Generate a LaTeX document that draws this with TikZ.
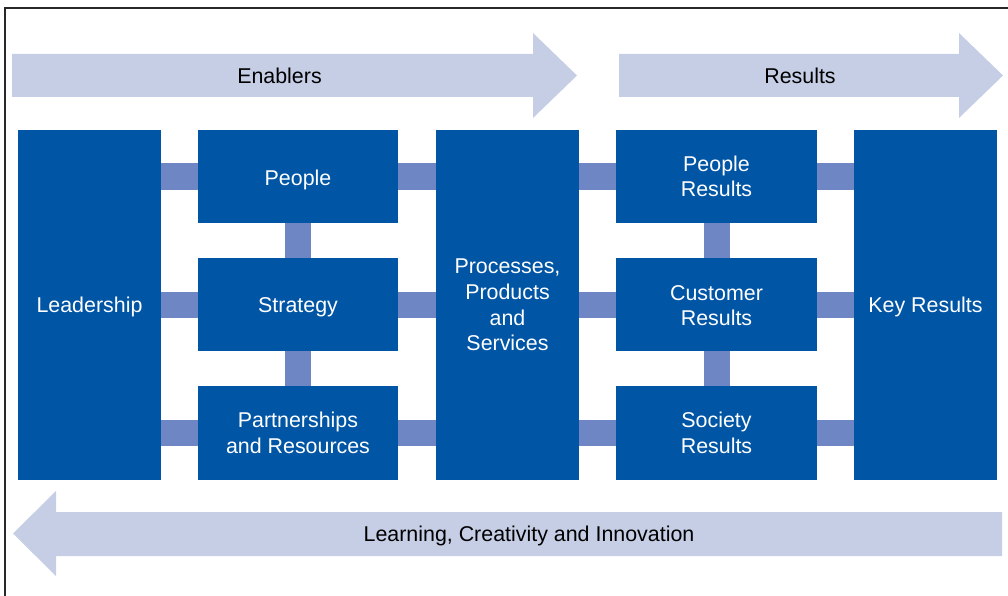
\documentclass[tikz,border=0pt]{standalone}
\usepackage{fontspec}
\setmainfont{Liberation Sans}
\definecolor{boxblue}{RGB}{0,85,165}
\definecolor{connblue}{RGB}{111,134,196}
\definecolor{arrowblue}{RGB}{198,206,230}
\definecolor{framegray}{RGB}{40,40,40}
\begin{document}
\begin{tikzpicture}[x=1pt,y=-1pt,
  lbl/.style={font=\fontsize{21.4}{25.7}\selectfont, align=center, inner sep=0pt},
  bluebox/.style={fill=boxblue, draw=none, text=white, lbl, minimum width=#1},
  conn/.style={draw=connblue, line width=26pt},
  bigarrow/.style={fill=arrowblue, draw=none}]
\useasboundingbox (0,0) rectangle (1008,596);
% frame (top and left only)
\draw[framegray, line width=2.2pt] (5,597) -- (5,8) -- (1008,8);
% big arrows
\path[bigarrow] (12,54) -- (533,54) -- (533,33) -- (577,75.5) -- (533,118) -- (533,97) -- (12,97) -- cycle;
\path[bigarrow] (619,54) -- (959,54) -- (959,33) -- (1003,75.5) -- (959,118) -- (959,97) -- (619,97) -- cycle;
\path[bigarrow] (1002,512) -- (56,512) -- (56,491) -- (13,533.5) -- (56,576) -- (56,556) -- (1002,556) -- cycle;
\node[lbl, text=black] (enab) at (279.5,75.5) {Enablers};
\node[lbl, text=black] (res) at (800,75.5) {Results};
\node[lbl, text=black] (learn) at (529,536) {Learning, Creativity and Innovation};
% boxes
\node[bluebox=143pt, minimum height=350pt] (lead) at (89.5,305) {};
\node[lbl, text=white] (leadtxt) at (89.5,307) {Leadership};
\node[bluebox=200pt, minimum height=93pt] (people) at (298,176.5) {};
\node[lbl, text=white] (peopletxt) at (298,179.5) {People};
\node[bluebox=200pt, minimum height=93pt] (strat) at (298,304.5) {};
\node[lbl, text=white] (strattxt) at (298,307.5) {Strategy};
\node[bluebox=200pt, minimum height=94pt] (part) at (298,433) {Partnerships\\and Resources};
\node[bluebox=143pt, minimum height=350pt] (proc) at (507.5,305) {Processes,\\Products\\and\\Services};
\node[bluebox=201pt, minimum height=93pt] (pres) at (716.5,176.5) {People\\Results};
\node[bluebox=201pt, minimum height=93pt] (cres) at (716.5,304.5) {};
\node[lbl, text=white] (crestxt) at (716.5,305.5) {Customer\\Results};
\node[bluebox=201pt, minimum height=94pt] (sres) at (716.5,433) {Society\\Results};
\node[bluebox=143pt, minimum height=350pt] (key) at (925.5,305) {};
\node[lbl, text=white] (keytxt) at (925.5,306.5) {Key Results};
% connectors
\draw[conn] (lead.east |- people.west) -- (people.west);
\draw[conn] (lead.east |- strat.west) -- (strat.west);
\draw[conn] (lead.east |- part.west) -- (part.west);
\draw[conn] (people.east) -- (proc.west |- people.east);
\draw[conn] (strat.east) -- (proc.west |- strat.east);
\draw[conn] (part.east) -- (proc.west |- part.east);
\draw[conn] (proc.east |- pres.west) -- (pres.west);
\draw[conn] (proc.east |- cres.west) -- (cres.west);
\draw[conn] (proc.east |- sres.west) -- (sres.west);
\draw[conn] (pres.east) -- (key.west |- pres.east);
\draw[conn] (cres.east) -- (key.west |- cres.east);
\draw[conn] (sres.east) -- (key.west |- sres.east);
\draw[conn] (people.south) -- (strat.north);
\draw[conn] (strat.south) -- (part.north);
\draw[conn] (pres.south) -- (cres.north);
\draw[conn] (cres.south) -- (sres.north);
\end{tikzpicture}
\end{document}
